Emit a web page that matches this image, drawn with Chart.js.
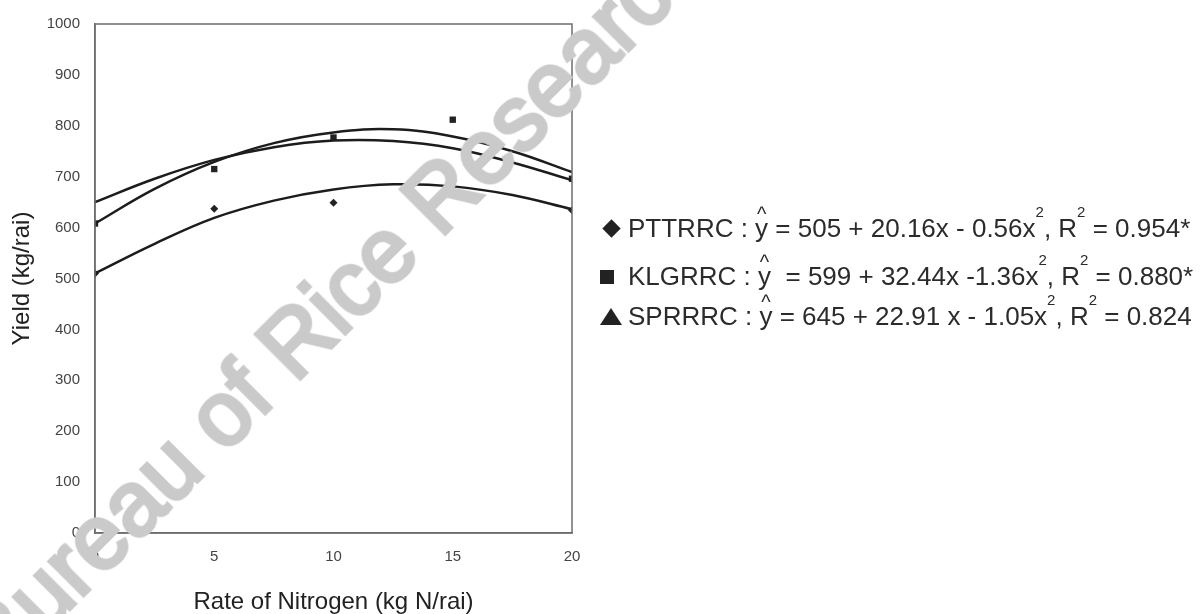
<!DOCTYPE html>
<html>
<head>
<meta charset="utf-8">
<script src="https://cdn.jsdelivr.net/npm/chart.js@4/dist/chart.umd.min.js"></script>
<style>
  html, body { margin: 0; padding: 0; background: #fff; }
  #wrap { position: relative; width: 1204px; height: 614px; overflow: hidden; font-family: "Liberation Sans", Arial, sans-serif; }
  #yield-chart { position: absolute; left: 0; top: 0; }
  .leg { position: absolute; left: 600px; font-size: 26px; line-height: 26px; color: #2b2b2b; white-space: pre; }
  .mk { display: inline-block; width: 28px; position: relative; height: 16px; }
  .mk.diamond::before { content: ""; position: absolute; left: 5px; top: 1px; width: 13px; height: 13px; background: #222; transform: rotate(45deg); }
  .mk.square::before { content: ""; position: absolute; left: 0; top: 1px; width: 14px; height: 14px; background: #222; }
  .mk.triangle::before { content: ""; position: absolute; left: 0; top: -1px; border-left: 11px solid transparent; border-right: 11px solid transparent; border-bottom: 17px solid #222; }
  .yh { position: relative; display: inline-block; }
  .hat { position: absolute; left: 0; right: 0; top: -14px; text-align: center; font-size: 20px; }
  .sup { position: relative; top: -20px; font-size: 15px; line-height: 0; }
  #mark { position: absolute; left: 335px; top: 300px; transform: translate(-50%, -50%) rotate(-45deg);
          font-size: 90px; line-height: 1; color: #cacaca; -webkit-text-stroke: 4px #cacaca;
          white-space: nowrap; pointer-events: none; }
</style>
</head>
<body>
<div id="wrap">
  <canvas id="yield-chart" width="1204" height="614"></canvas>
  <div class="leg" style="top:215px"><span class="mk diamond"></span>PTTRRC : <span class="yh">y<span class="hat">^</span></span> = 505 + 20.16x - 0.56x<span class="sup">2</span>, R<span class="sup">2</span> = 0.954*</div>
  <div class="leg" style="top:263px"><span class="mk square"></span>KLGRRC : <span class="yh">y<span class="hat">^</span></span>  = 599 + 32.44x -1.36x<span class="sup">2</span>, R<span class="sup">2</span> = 0.880*</div>
  <div class="leg" style="top:303px"><span class="mk triangle"></span>SPRRRC : <span class="yh">y<span class="hat">^</span></span> = 645 + 22.91 x - 1.05x<span class="sup">2</span>, R<span class="sup">2</span> = 0.824</div>
  <div id="mark">Bureau of Rice Research</div>
</div>
<script>
// observed yields at each N rate
const nitrogenRates = [0, 5, 10, 15, 20];
const pttrrcYield = [510, 637, 649, 692, 634];
const klgrrcYield = [608, 715, 777, 812, 696];

// fitted curves
const curveRates = [0, 2.5, 5, 7.5, 10, 12.5, 15, 17.5, 20];
const pttrrcCurve = [510, 568, 619, 653, 675, 685, 681, 664, 636];
const klgrrcCurve = [608, 676, 729, 766, 787, 793, 779, 750, 709];
const sprrrcCurve = [650, 696, 733, 758, 771, 770, 756, 728, 693];

const xTicks = [0, 5, 10, 15, 20];
const yTicks = [0, 100, 200, 300, 400, 500, 600, 700, 800, 900, 1000];

const toPoints = (xs, ys) => xs.map((x, i) => ({ x: x, y: ys[i] }));

const curve = (ys) => ({
    data: toPoints(curveRates, ys),
    showLine: true,
    borderColor: '#1c1c1c',
    borderWidth: 2.5,
    tension: 0.4,
    pointRadius: 0,
    fill: false
});

// box around the plot area
const frame = {
    id: 'frame',
    afterDraw(chart) {
        const { ctx, chartArea: a } = chart;
        ctx.save();
        ctx.strokeStyle = '#6e6e6e';
        ctx.lineWidth = 1.5;
        ctx.strokeRect(a.left, a.top, a.right - a.left, a.bottom - a.top);
        ctx.restore();
    }
};

const ctx = document.getElementById('yield-chart');
new Chart(ctx, {
    type: 'scatter',
    data: {
        datasets: [
            curve(klgrrcCurve),
            curve(sprrrcCurve),
            curve(pttrrcCurve),
            {
                data: toPoints(nitrogenRates, pttrrcYield),
                pointStyle: 'rectRot',
                pointRadius: 4,
                backgroundColor: '#222',
                borderColor: '#222',
                borderWidth: 0
            },
            {
                data: toPoints(nitrogenRates, klgrrcYield),
                pointStyle: 'rect',
                pointRadius: 4.5,
                backgroundColor: '#222',
                borderColor: '#222',
                borderWidth: 0
            }
        ]
    },
    options: {
        responsive: false,
        animation: false,
        layout: { padding: { left: 0, top: 21, right: 632, bottom: 0 } },
        plugins: { legend: { display: false }, tooltip: { enabled: false } },
        scales: {
            x: {
                type: 'linear',
                min: 0,
                max: 20,
                afterBuildTicks: (s) => { s.ticks = xTicks.map(v => ({ value: v })); },
                afterFit: (s) => { s.height = 81; },
                ticks: { color: '#444', font: { size: 15, family: 'Liberation Sans' }, padding: 15, callback: (v) => String(v) },
                grid: { display: false, drawTicks: false },
                border: { color: '#6e6e6e', width: 1.5 },
                title: {
                    display: true,
                    text: 'Rate of Nitrogen (kg N/rai)',
                    color: '#222',
                    font: { size: 24, family: 'Liberation Sans', lineHeight: 1 },
                    padding: { top: 0, bottom: 0 }
                }
            },
            y: {
                min: 0,
                max: 1000,
                afterBuildTicks: (s) => { s.ticks = yTicks.map(v => ({ value: v })); },
                afterFit: (s) => { s.width = 95; },
                ticks: { color: '#444', font: { size: 15, family: 'Liberation Sans' }, padding: 15, callback: (v) => String(v) },
                grid: { display: false, drawTicks: false },
                border: { color: '#6e6e6e', width: 1.5 },
                title: {
                    display: true,
                    text: 'Yield (kg/rai)',
                    color: '#222',
                    font: { size: 24, family: 'Liberation Sans' },
                    padding: { top: 8, bottom: 0 }
                }
            }
        }
    },
    plugins: [frame]
});
</script>
</body>
</html>
